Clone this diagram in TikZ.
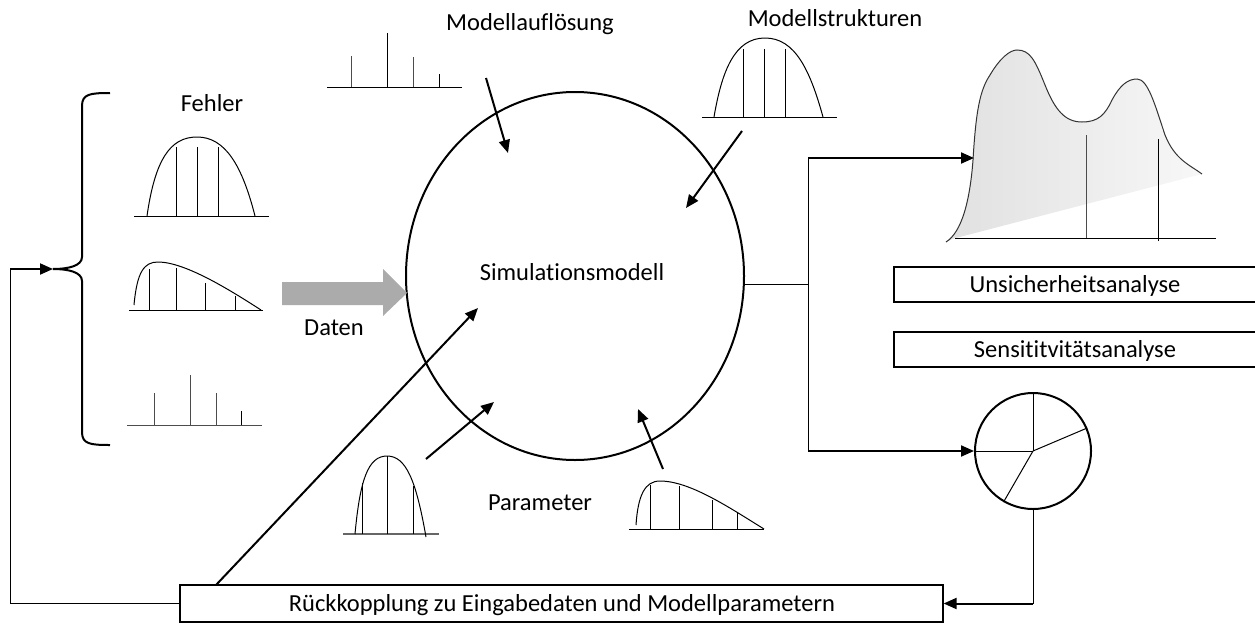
\documentclass[tikz,border=0pt]{standalone}
\usepackage{fontspec}
\setmainfont{Carlito}[Ligatures={NoCommon}]
\usetikzlibrary{shapes.geometric,arrows.meta}
\begin{document}
\begin{tikzpicture}[x=1pt,y=-1pt,
  thinline/.style={line width=1pt},
  thickarrow/.style={line width=2pt,-{Triangle[length=13pt,width=11pt]}},
  dist/.style={line width=1pt},
  stick/.style={line width=1pt,draw=black!70},
  lbl/.style={font=\fontsize{24.5}{29}\selectfont, inner sep=0pt},
  boxnode/.style={draw, line width=1.2pt, inner sep=0pt}]
\useasboundingbox (0,0) rectangle (1255,624);

% main model
\node[ellipse, draw, line width=2pt, inner sep=0pt, minimum width=338pt, minimum height=368pt] (sim) at (575,276) {};
\node[lbl] (simtxt) at (572,272) {Simulationsmodell};

% labels
\node[lbl] (fehler) at (212,103) {Fehler};
\node[lbl] (aufl) at (530,24) {Modellauflösung};
\node[lbl] (struk) at (835,18) {Modellstrukturen};
\node[lbl] (daten) at (334,328) {Daten};
\node[lbl] (param) at (540,503) {Parameter};

% boxes
\node[boxnode, minimum width=367pt, minimum height=35pt] (ua) at (1077.5,284.5) {};
\node[lbl] (uatxt) at (1075,286) {Unsicherheitsanalyse};
\node[boxnode, minimum width=367pt, minimum height=35pt] (sa) at (1077.5,349.5) {};
\node[lbl] (satxt) at (1075,351) {Sensititvitätsanalyse};
\node[boxnode, minimum width=763pt, minimum height=37pt] (fb) at (561.5,603.5) {};
\node[lbl] (fbtxt) at (562,605) {Rückkopplung zu Eingabedaten und Modellparametern};

% pie
\node[circle, draw, line width=2pt, inner sep=0pt, minimum size=116pt] (pie) at (1033,451) {};
\draw[thinline] (pie.center) -- (pie.north);
\draw[thinline] (pie.center) -- (pie.23);
\draw[thinline] (pie.center) -- (pie.west);
\draw[thinline] (pie.center) -- (pie.240);

% Daten arrow
\fill[black!33] (282,282) -- (383,282) -- (383,269) -- (407,293) -- (383,316) -- (383,305) -- (282,305) -- cycle;

% brace
\coordinate (btip) at (53,269);
\draw[line width=2pt] (110,93) .. controls (90,93) and (82,94) .. (82,106) -- (82,257)
  .. controls (82,266) and (68,269) .. (btip)
  .. controls (68,269) and (82,272) .. (82,281) -- (82,432)
  .. controls (82,444) and (90,445) .. (110,445);

% Fehler distributions
\draw[dist] (134,216) -- (269,216);
\draw[dist] (147,216) .. controls (155,160) and (170,137) .. (197,137) .. controls (225,137) and (242,165) .. (255,216);
\foreach \x in {176,197,218} \draw[dist] (\x,216) -- (\x,147);

\draw[dist] (129,310) -- (263,310);
\draw[dist] (134,305) .. controls (137,272) and (144,262) .. (158,262) .. controls (185,262) and (230,290) .. (261,310);
\draw[dist] (149,310) -- (149,269);
\draw[dist] (176,310) -- (176,268);
\draw[dist] (205,310) -- (205,283);
\draw[dist] (235,310) -- (235,296);

\draw[stick] (127,425) -- (262,425);
\draw[stick] (154,425) -- (154,393);
\draw[stick] (190,425) -- (190,375);
\draw[stick] (216,425) -- (216,393);
\draw[dist] (241,425) -- (241,411);

% Modellaufloesung sticks
\draw[dist] (327,87) -- (462,87);
\draw[stick] (351,87) -- (351,56);
\draw[dist] (387,87) -- (387,33);
\draw[stick] (413,87) -- (413,57);
\draw[dist] (439,87) -- (439,74);

% Modellstrukturen bell
\draw[dist] (702,117) -- (837,117);
\draw[dist] (714,117) .. controls (722,70) and (735,38) .. (765,38) .. controls (795,38) and (810,70) .. (823,117);
\foreach \x in {743,764,785} \draw[dist] (\x,117) -- (\x,49);

% Parameter distributions
\draw[line width=1.3pt, draw=black!60] (343,534) -- (439,534);
\draw[dist] (355,534) .. controls (360,480) and (368,456) .. (387,456) .. controls (406,456) and (416,480) .. (426,537);
\draw[dist] (362,534) -- (362,483);
\draw[dist] (387,534) -- (387,456);
\draw[dist] (413,534) -- (413,486);

\draw[dist] (629,529) -- (764,529);
\draw[dist] (636,525) .. controls (638,495) and (645,481) .. (660,481) .. controls (690,481) and (730,508) .. (764,529);
\draw[dist] (650,529) -- (650,485);
\draw[dist] (679,529) -- (679,486);
\draw[dist] (712,529) -- (712,500);
\draw[dist] (737,529) -- (737,513);

% output peak figure
\shade[left color=black!12, right color=black!3]
  (946,242) .. controls (962,232) and (970,200) .. (973,160)
  .. controls (976,110) and (980,90) .. (990,75)
  .. controls (1000,58) and (1010,50) .. (1017,50)
  .. controls (1030,50) and (1035,60) .. (1045,85)
  .. controls (1055,110) and (1065,122) .. (1082,122)
  .. controls (1098,122) and (1105,115) .. (1112,100)
  .. controls (1120,85) and (1128,79) .. (1137,79)
  .. controls (1148,79) and (1155,105) .. (1165,135)
  .. controls (1175,160) and (1190,165) .. (1202,174) -- (952,239) -- cycle;
\draw[line width=1pt, draw=black!80]
  (946,242) .. controls (962,232) and (970,200) .. (973,160)
  .. controls (976,110) and (980,90) .. (990,75)
  .. controls (1000,58) and (1010,50) .. (1017,50)
  .. controls (1030,50) and (1035,60) .. (1045,85)
  .. controls (1055,110) and (1065,122) .. (1082,122)
  .. controls (1098,122) and (1105,115) .. (1112,100)
  .. controls (1120,85) and (1128,79) .. (1137,79)
  .. controls (1148,79) and (1155,105) .. (1165,135)
  .. controls (1175,160) and (1190,165) .. (1202,174);
\draw[dist] (955,238) -- (1216,238);
\draw[stick] (1086,238) -- (1086,135);
\draw[dist] (1158,241) -- (1158,139);
\coordinate (peakL) at (974,158);

% arrows into the model
\coordinate (a1s) at (486,78);   \coordinate (a1e) at (508,153);
\coordinate (a2s) at (742,131);  \coordinate (a2e) at (686,208);
\coordinate (a3s) at (426,459);  \coordinate (a3e) at (494,402);
\coordinate (a4s) at (663,469);  \coordinate (a4e) at (638,409);
\draw[thickarrow] (a1s) -- (a1e);
\draw[thickarrow] (a2s) -- (a2e);
\draw[thickarrow] (a3s) -- (a3e);
\draw[thickarrow] (a4s) -- (a4e);

% output branches
\coordinate (br) at (808,284);
\coordinate (bt) at (808,158);
\coordinate (bb) at (808,451);
\draw[thinline] (sim.east) ++(0,8) -- (br);
\draw[thinline] (bt) -- (bb);
\draw[thickarrow] (bt) -- (peakL);
\draw[thickarrow] (bb) -- (pie.west);

% feedback
\coordinate (pd) at (1033,603.5);
\draw[thinline] (pie.south) -- (pd);
\draw[thickarrow] (pd) -- (fb.east);
\coordinate (fl1) at (10,603.5);
\coordinate (fl2) at (10,269);
\draw[thinline] (fb.west) -- (fl1) -- (fl2);
\draw[thickarrow] (fl2) -- (btip);
\coordinate (ds) at (216,585);
\coordinate (de) at (478,308);
\draw[thickarrow] (ds) -- (de);
\end{tikzpicture}
\end{document}
